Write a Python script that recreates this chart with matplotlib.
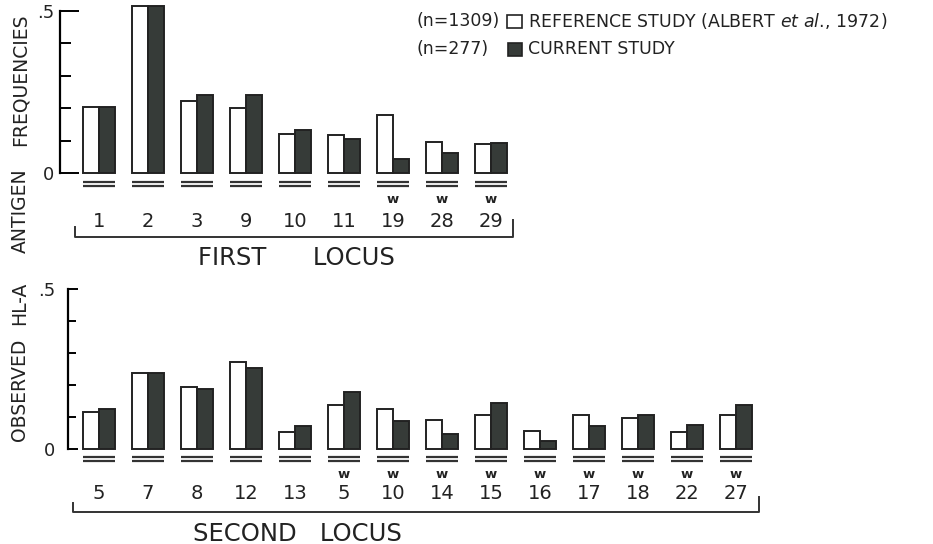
import numpy as np
import matplotlib
matplotlib.use('Agg')
import matplotlib.pyplot as plt

# first locus
first_labels = ['1', '2', '3', '9', '10', '11', '19', '28', '29']
first_w = [False, False, False, False, False, False, True, True, True]
first_ref = [0.204, 0.515, 0.222, 0.200, 0.120, 0.117, 0.179, 0.096, 0.089]
first_cur = [0.204, 0.515, 0.241, 0.241, 0.133, 0.105, 0.043, 0.062, 0.093]

# second locus
second_labels = ['5', '7', '8', '12', '13', '5', '10', '14', '15', '16', '17', '18', '22', '27']
second_w = [False, False, False, False, False, True, True, True, True, True, True, True, True, True]
second_ref = [0.116, 0.236, 0.195, 0.272, 0.052, 0.139, 0.124, 0.091, 0.105, 0.056, 0.105, 0.096, 0.053, 0.106]
second_cur = [0.124, 0.236, 0.186, 0.254, 0.073, 0.177, 0.088, 0.047, 0.143, 0.025, 0.073, 0.106, 0.076, 0.138]

W, H = 933, 544
DARK = '#363b38'
INK = '#222222'
plt.rcParams['font.family'] = 'DejaVu Sans'

fig = plt.figure(figsize=(W / 100, H / 100), dpi=100)

GAP = 49.0      # pixels between group centres
X0 = 99.0       # pixel x of first group centre
BW = 0.335      # bar width in group units


def make_axes(zero_px, unit_px, spine_px, right_px, ylo, yhi, major_len, minor_len, pad):
	# place an axes so that data 0 sits at pixel row zero_px
	top = zero_px - yhi * unit_px
	bot = zero_px - ylo * unit_px
	ax = fig.add_axes([spine_px / W, 1 - bot / H, (right_px - spine_px) / W, (bot - top) / H])
	ax.set_xlim((spine_px - X0) / GAP, (right_px - X0) / GAP)
	ax.set_ylim(ylo, yhi)
	ax.patch.set_alpha(0)
	for s in ['top', 'right', 'bottom']:
		ax.spines[s].set_visible(False)
	ax.spines['left'].set_bounds(0, 0.5)
	ax.spines['left'].set_linewidth(1.6)
	ax.set_xticks([])
	ax.set_yticks([0, 0.5])
	ax.set_yticklabels(['0', '.5'])
	ax.set_yticks([0.1, 0.2, 0.3, 0.4], minor=True)
	ax.tick_params(axis='y', which='major', direction='in', length=major_len, width=1.4, labelsize=13, pad=pad, labelcolor=INK)
	ax.tick_params(axis='y', which='minor', direction='in', length=minor_len, width=1.4)
	return ax


def draw_panel(ax, labels, wflags, ref, cur, dbl, wy, ly, br, title, tx, ty):
	x = np.arange(len(labels))
	ax.bar(x - BW / 2, ref, BW, color='white', edgecolor=INK, linewidth=1.4, zorder=3)
	ax.bar(x + BW / 2, cur, BW, color=DARK, edgecolor=INK, linewidth=1.4, zorder=3)
	for i in x:
		for yy in dbl:
			ax.plot([i - BW, i + BW], [yy, yy], color='#333333', lw=1.6, solid_capstyle='butt')
		if wflags[i]:
			ax.text(i, wy, 'w', ha='center', va='baseline', fontsize=9.5, fontweight='bold', color=INK)
		ax.text(i, ly, labels[i], ha='center', va='baseline', fontsize=14, color=INK)
	(bx0, bx1, by, bl, brr) = br
	ax.plot([bx0, bx0, bx1, bx1], [bl, by, by, brr], color='#333333', lw=1.4)
	ax.text(tx, ty, title, ha='center', va='center', fontsize=17.5, color=INK)


# top panel
ax1 = make_axes(173, 324, 60, 530, -0.31, 0.53, 14, 8, 4)
draw_panel(ax1, first_labels, first_w, first_ref, first_cur, [-0.028, -0.040], -0.0926, -0.167,
	(-0.49, 8.45, -0.198, -0.167, -0.145), 'FIRST      LOCUS', 4.02, -0.262)

# bottom panel
ax2 = make_axes(449, 320, 68, 780, -0.30, 0.53, 7, 6, 9)
draw_panel(ax2, second_labels, second_w, second_ref, second_cur, [-0.025, -0.0375], -0.090, -0.156,
	(-0.53, 13.47, -0.197, -0.169, -0.15), 'SECOND   LOCUS', 4.04, -0.265)

# shared y label, one word at a time
ylabel_words = ['OBSERVED', 'HL-A', 'ANTIGEN', 'FREQUENCIES']
ylabel_rows = [390, 303, 211, 80]
for word, row in zip(ylabel_words, ylabel_rows):
	fig.text(20 / W, 1 - row / H, word, rotation=90, ha='center', va='center', fontsize=13.5, color=INK)

# legend drawn as text with square markers
fig.text(417 / W, 1 - 21 / H, '(n=1309)', ha='left', va='center', fontsize=12.5, color=INK)
fig.text(528 / W, 1 - 21 / H, r'REFERENCE STUDY (ALBERT $et\ al.\!$, 1972)', ha='left', va='center', fontsize=12.5, color=INK)
fig.text(417 / W, 1 - 49 / H, '(n=277)', ha='left', va='center', fontsize=12.5, color=INK)
fig.text(528 / W, 1 - 49 / H, 'CURRENT STUDY', ha='left', va='center', fontsize=12.5, color=INK)
fig.patches.append(plt.Rectangle((507 / W, 1 - 28 / H), 15 / W, 13 / H, transform=fig.transFigure,
	facecolor='white', edgecolor=INK, lw=1.2))
fig.patches.append(plt.Rectangle((508 / W, 1 - 56 / H), 14 / W, 13 / H, transform=fig.transFigure,
	facecolor=DARK, edgecolor=INK, lw=1.2))

fig.savefig('out.png', dpi=100)
